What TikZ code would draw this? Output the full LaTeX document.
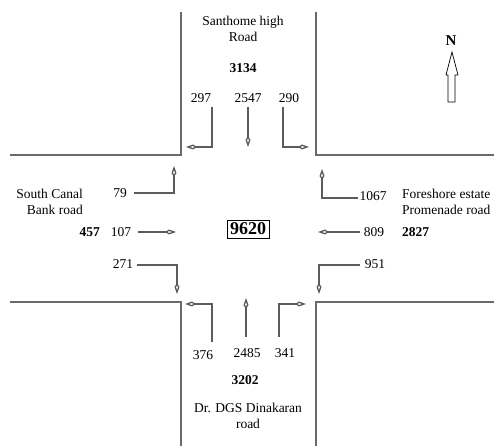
\documentclass[tikz,border=0pt]{standalone}
\usepackage{fontspec}
\setmainfont{Liberation Serif}
\usetikzlibrary{arrows.meta}
\definecolor{RoadGray}{HTML}{6A6A6A}
\definecolor{FlowGray}{HTML}{5C5C5C}

\begin{document}
\begin{tikzpicture}[x=1pt,y=-1pt,>={Kite[open,length=11pt,width=5pt,inset=4pt]},
    road/.style={draw=RoadGray, line width=1.6pt},
    flow/.style={->, draw=FlowGray, line width=1.3pt},
    lbl/.style={inner sep=0pt, font=\fontsize{13.5}{16}\selectfont},
    total/.style={inner sep=0pt, font=\fontsize{13.5}{16}\selectfont\bfseries},
    roadname/.style={inner sep=0pt, align=center, font=\fontsize{13.5}{16}\selectfont}]
        \useasboundingbox (0,0) rectangle (499,446);
        % road edges
        \draw[road] (181,12) -- (181,155) -- (10,155);
        \draw[road] (316,12) -- (316,155) -- (494,155);
        \draw[road] (10,302) -- (181,302) -- (181,446);
        \draw[road] (494,302) -- (316,302) -- (316,446);
        % north approach
        \node[roadname] (north) at (243,29) {Santhome high\\Road};
        \node[total] (ntot) at (243,68) {3134};
        \node[lbl] (n297) at (201,98) {297};
        \node[lbl] (n2547) at (248,98) {2547};
        \node[lbl] (n290) at (289,98) {290};
        \draw[flow] (212,107) -- (212,147) -- (186,147);
        \draw[flow] (248,107) -- (248,147);
        \draw[flow] (283,107) -- (283,147) -- (309,147);
        % west approach
        \node[roadname, align=right, anchor=east] (west) at (83,202) {South Canal\\Bank road};
        \node[total, anchor=east] (wtot) at (100,232) {457};
        \node[lbl] (w79) at (120,193) {79};
        \node[lbl] (w107) at (121,232) {107};
        \node[lbl] (w271) at (123,264) {271};
        \draw[flow] (134,193) -- (174,193) -- (174,166);
        \draw[flow] (138,232) -- (176,232);
        \draw[flow] (137,265) -- (177,265) -- (177,294);
        % east approach
        \node[roadname, align=left, anchor=west] (east) at (402,202) {Foreshore estate\\Promenade road};
        \node[total, anchor=west] (etot) at (402,232) {2827};
        \node[lbl] (e1067) at (373,196) {1067};
        \node[lbl] (e809) at (374,232) {809};
        \node[lbl] (e951) at (375,264) {951};
        \draw[flow] (358,198) -- (322,198) -- (322,169);
        \draw[flow] (360,232) -- (318,232);
        \draw[flow] (360,265) -- (319,265) -- (319,294);
        % south approach
        \node[lbl] (s376) at (203,355) {376};
        \node[lbl] (s2485) at (247,353) {2485};
        \node[lbl] (s341) at (285,353) {341};
        \node[total] (stot) at (245,380) {3202};
        \node[roadname] (south) at (248,416) {Dr. DGS Dinakaran\\road};
        \draw[flow] (212,342) -- (212,304) -- (185,304);
        \draw[flow] (246,337) -- (246,298);
        \draw[flow] (279,337) -- (279,304) -- (306,304);
        % junction total
        \node[draw, line width=0.8pt, inner sep=3pt, font=\fontsize{18}{20}\selectfont\bfseries] (junction) at (248,229) {9620};
        % north sign
        \node[inner sep=0pt, font=\fontsize{15}{16}\selectfont\bfseries] (nsign) at (451,41) {N};
        \draw[line width=0.7pt] (452,52) -- (458,75) -- (455,75) -- (455,102) -- (448,102) -- (448,75) -- (446,75) -- cycle;
      \end{tikzpicture}
\end{document}
